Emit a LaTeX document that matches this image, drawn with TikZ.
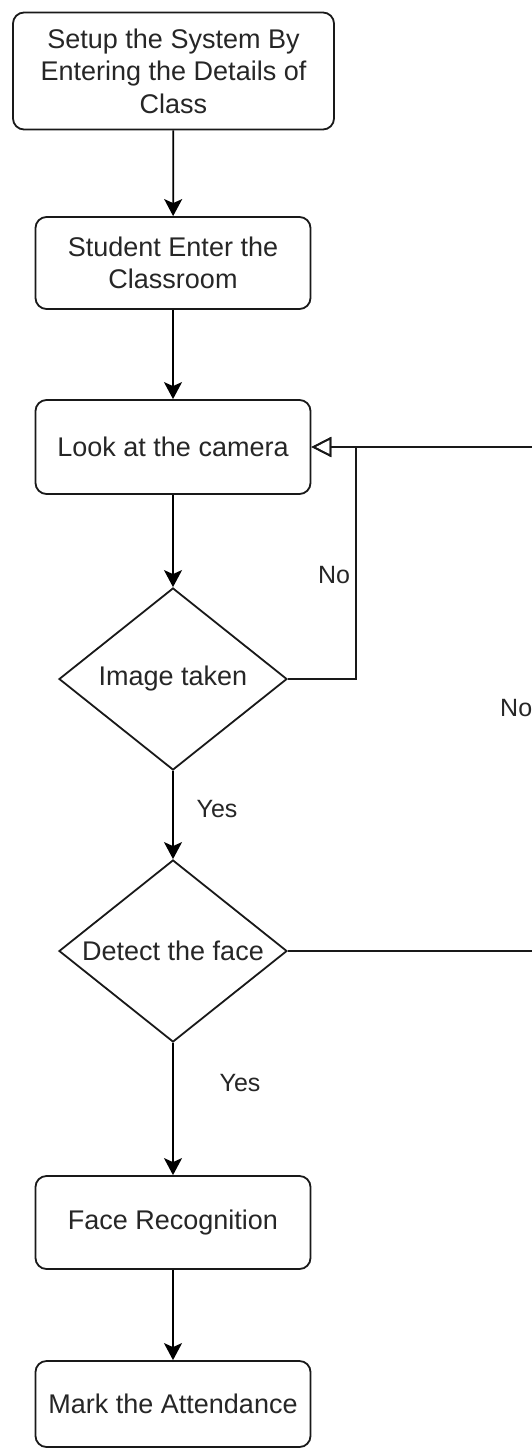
\documentclass[tikz,border=0pt]{standalone}
\usepackage{fontspec}
\setmainfont{Liberation Sans}
\usetikzlibrary{arrows.meta,shapes.geometric}
\begin{document}
\begin{tikzpicture}[x=1pt,y=-1pt,
  flowbox/.style={draw=black!90, line width=1.8pt, rounded corners=11pt, fill=white,
    align=center, inner sep=0pt, text=black!85,
    font=\fontsize{27}{32.5}\selectfont},
  decision/.style={draw=black!90, diamond, aspect=1.25, minimum width=228pt,
    minimum height=182pt, inner sep=0pt, line width=1.8pt, fill=white,
    text=black!85, font=\fontsize{27}{32.5}\selectfont},
  flow/.style={draw=black, line width=1.8pt, -{Stealth[length=17pt,width=18pt,inset=4pt]}},
  back/.style={draw=black!90, line width=1.8pt, -{Triangle[open,length=20pt,width=20pt]}},
  plainline/.style={draw=black!90, line width=1.8pt},
  edgelabel/.style={text=black!85, font=\fontsize{25}{30}\selectfont}
]
\useasboundingbox (0,0) rectangle (532,1448);
\clip (0,0) rectangle (532,1448);

% process steps
\node[flowbox, minimum width=321pt, minimum height=117pt] (setup) at (173.5,71)
  {Setup the System By\\Entering the Details of\\Class};
\node[flowbox, minimum width=275pt, minimum height=92pt] (enter) at (173,263)
  {Student Enter the\\Classroom};
\node[flowbox, minimum width=275pt, minimum height=94pt] (look) at (173,447)
  {Look at the camera};
\node[decision] (taken) at (173,679) {Image taken};
\node[decision] (detect) at (173,951) {Detect the face};
\node[flowbox, minimum width=275pt, minimum height=93pt] (recog) at (173,1222.5)
  {Face Recognition};
\node[flowbox, minimum width=275pt, minimum height=86pt] (mark) at (173,1404)
  {Mark the Attendance};

% main flow
\draw[flow] (setup) -- (enter);
\draw[flow] (enter) -- (look);
\draw[flow] (look) -- (taken);
\draw[flow] (taken) -- (detect);
\draw[flow] (detect) -- (recog);
\draw[flow] (recog) -- (mark);

% retry loops
\coordinate (loopturn) at (356,447);
\coordinate (rightin) at (545,447);
\coordinate (rightout) at (545,951);
\draw[back] (taken.east) -| (loopturn) -- (look.east);
\draw[back] (rightin) -- (look.east);
\draw[plainline] (detect.east) -- (rightout);

% edge labels
\node[edgelabel] (noa) at (334,575) {No};
\node[edgelabel, anchor=west, inner sep=0pt] (nob) at (500,708) {No};
\node[edgelabel] (yesa) at (217,809) {Yes};
\node[edgelabel] (yesb) at (240,1083) {Yes};
\end{tikzpicture}
\end{document}
